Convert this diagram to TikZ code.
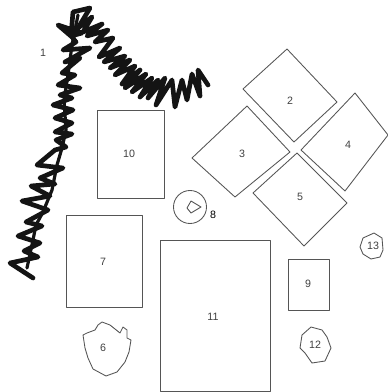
\documentclass[tikz,border=0pt]{standalone}
\usepackage{fontspec}
\setmainfont{Liberation Sans}
\definecolor{plotline}{RGB}{85,85,85}
\definecolor{scribble}{RGB}{20,20,20}
\tikzset{
  plot/.style={draw=plotline,line width=0.65pt,line join=round},
  num/.style={font=\fontsize{8}{9}\selectfont,text=black!75,inner sep=0pt},
  trail/.style={draw=scribble,line width=3.5pt,line join=round,line cap=round},
}
\begin{document}
\begin{tikzpicture}[x=0.75pt,y=-0.75pt]
\useasboundingbox (0,0) rectangle (388,392);
% scribbled line, lower end first
\draw[trail] (33,278)--(10,263)--(38,257)--(24,251)--(40,243)--(18,236)--(42,226)--(26,222)--(48,210)--(22,201)--(50,196)
  --(31,186)--(55,184)--(40,178)--(63,168)--(37,165)--(55,150)--(66,147)--(56,140)--(72,134)--(55,132)--(72,123)--(55,118)--(73,110)--(53,105)
  --(72,98)--(60,95)--(80,88)--(58,85)--(75,75)--(62,73)--(80,58)--(65,62)--(90,48)--(63,50)--(76,42)--(72,37)--(58,25)--(82,33)--(71,36)--(73,12)--(90,8)--(78,28)
  --(92,17)--(83,32)--(102,24)--(87,36)--(108,30)--(95,42)--(113,38)--(99,57)--(120,48)--(104,62)--(125,56)--(110,68)--(130,60)
  --(115,75)--(135,66)--(122,84)--(140,70)--(125,88)--(146,74)--(132,92)--(152,78)--(140,97)--(158,80)--(148,98)--(165,78)--(156,105)--(172,80)
  --(175,107)--(182,80)--(187,100)--(192,74)--(200,96)--(198,70)--(208,85);
\draw[trail,line width=2.4pt] (27,268)--(33,240)--(36,225)--(43,212)--(52,190)--(57,165)--(62,148)--(66,130)--(64,100)--(68,75)--(72,45)--(78,15);
% boxes
\draw[plot] (97,110) rectangle (164,198);
\draw[plot] (66,215) rectangle (142,307);
\draw[plot] (160,240) rectangle (270,391);
\draw[plot] (288.5,259) rectangle (329.5,310);
% tilted boxes
\draw[plot] (243,89)--(287,49)--(337,102)--(294,142)--cycle;
\draw[plot] (192,158)--(247,106)--(290,152)--(235,197)--cycle;
\draw[plot] (355,93)--(301,150)--(345,191)--(388,135)--cycle;
\draw[plot] (253,193)--(297,153)--(347,203)--(304,246)--cycle;
% small shapes
\draw[plot] (190,207) circle[radius=16.5];
\draw[plot] (191,201)--(201,207)--(191,213)--(187,208)--cycle;
\draw[plot] (102,322)--(110,325)--(120,333)--(123,327)--(127,330)--(127,338)--(131,340)--(129,352)--(125,362)--(117,372)--(106,376)
  --(93,369)--(88,358)--(85,348)--(83,335)--(87,333)--(95,330)--(98,325)--cycle;
\draw[plot] (374,233)--(382,238)--(383,250)--(380,257)--(371,259)--(363,254)--(360,247)--(363,238)--cycle;
\draw[plot] (311,327)--(322,330)--(327,337)--(331,348)--(325,361)--(312,363)--(305,353)--(300,348)--(302,335)--cycle;
% numbers
\foreach \name/\px/\py in {1/43/53,2/290/101,3/242/154,4/348/145,5/300/197,6/103/348,7/103/262,9/308/284,10/129/154,11/213/317,12/315/345,13/373/246}
  \node[num] (n\name) at (\px,\py) {\name};
\node[num,text=black] (n8) at (213,215) {8};
\end{tikzpicture}
\end{document}
